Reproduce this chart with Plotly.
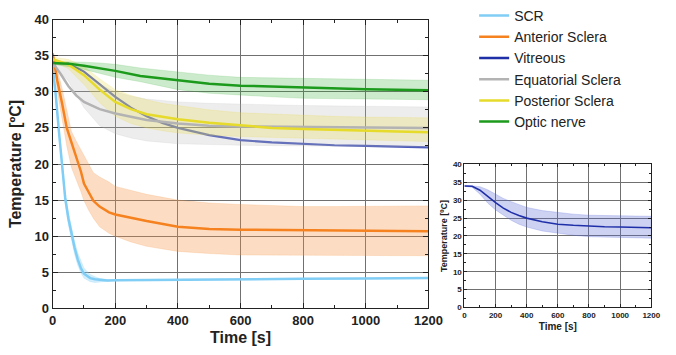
import plotly.graph_objects as go

# ---------------- data ----------------
t_scr = [0, 10, 20, 30, 40, 50, 60, 70, 80, 90, 100, 110, 120, 135, 150, 175, 200, 400, 600, 800, 1000, 1200]
scr = [33.5, 29.5, 24.5, 20.0, 15.3, 12.5, 10.4, 8.4, 6.8, 5.6, 4.8, 4.45, 4.2, 4.05, 3.95, 3.88, 3.9, 4.0, 4.05, 4.1, 4.15, 4.2]
scr_hi = [33.8, 30.0, 25.2, 20.8, 16.1, 13.4, 11.3, 9.3, 7.7, 6.5, 5.6, 5.1, 4.7, 4.4, 4.15, 3.98, 3.95, 4.05, 4.1, 4.15, 4.2, 4.25]
scr_lo = [33.2, 29.0, 23.8, 19.2, 14.5, 11.6, 9.5, 7.5, 6.0, 4.9, 4.2, 3.9, 3.7, 3.6, 3.6, 3.75, 3.85, 3.95, 4.0, 4.05, 4.1, 4.15]

t_ant = [0, 15, 30, 45, 60, 75, 90, 100, 115, 130, 150, 180, 200, 250, 300, 400, 500, 600, 700, 800, 900, 1000, 1100, 1200]
ant = [35.3, 31.5, 28.4, 25.0, 23.0, 21.0, 19.0, 17.3, 16.0, 14.9, 14.1, 13.3, 13.0, 12.5, 12.1, 11.3, 11.0, 10.9, 10.85, 10.8, 10.75, 10.75, 10.7, 10.7]
ant_hi = [35.5, 33.0, 30.5, 27.5, 24.5, 23.2, 22.0, 21.0, 19.8, 18.8, 18.2, 17.5, 16.9, 16.3, 15.8, 15.0, 14.6, 14.4, 14.2, 14.1, 14.1, 14.1, 14.1, 14.2]
ant_lo = [35.1, 30.0, 26.2, 22.5, 19.5, 18.0, 16.2, 14.9, 13.6, 12.5, 11.3, 10.4, 10.0, 9.2, 8.6, 7.9, 7.6, 7.4, 7.35, 7.3, 7.3, 7.3, 7.3, 7.3]

t_mid = [0, 50, 100, 150, 200, 250, 300, 350, 400, 500, 600, 700, 800, 900, 1000, 1100, 1200]
vit = [34.0, 33.9, 32.8, 31.0, 29.3, 27.8, 26.6, 25.7, 25.0, 24.0, 23.3, 23.0, 22.75, 22.6, 22.5, 22.4, 22.3]
vit_hi = [34.2, 34.1, 33.8, 32.9, 31.7, 30.5, 29.6, 28.7, 28.0, 27.1, 26.5, 26.1, 25.8, 25.7, 25.6, 25.55, 25.5]
vit_lo = [33.9, 33.6, 31.7, 29.2, 27.3, 25.8, 24.4, 23.3, 22.5, 21.4, 20.7, 20.2, 19.8, 19.6, 19.5, 19.45, 19.4]

t_equ = [0, 25, 50, 75, 100, 150, 200, 250, 300, 400, 500, 600, 800, 1000, 1200]
equ = [34.0, 32.5, 30.8, 29.5, 28.6, 27.6, 27.0, 26.5, 26.1, 25.6, 25.3, 25.2, 25.1, 25.05, 25.0]
equ_hi = [34.2, 34.0, 33.8, 33.2, 32.5, 31.0, 30.0, 29.4, 29.0, 28.6, 28.4, 28.3, 28.1, 28.0, 27.9]
equ_lo = [33.8, 32.6, 31.5, 29.6, 27.8, 25.3, 24.2, 23.6, 23.2, 22.8, 22.7, 22.6, 22.5, 22.4, 22.4]

pos = [34.5, 33.8, 32.3, 30.3, 28.6, 27.6, 26.9, 26.5, 26.2, 25.7, 25.3, 25.0, 24.85, 24.7, 24.6, 24.5, 24.4]
pos_hi = [34.8, 34.5, 33.5, 31.8, 30.3, 29.5, 28.9, 28.4, 28.1, 27.5, 27.1, 26.9, 26.7, 26.6, 26.5, 26.45, 26.4]
pos_lo = [34.2, 33.2, 31.0, 28.5, 26.6, 25.6, 25.0, 24.6, 24.3, 24.0, 23.8, 23.65, 23.5, 23.4, 23.3, 23.2, 23.1]

t_opt = [0, 50, 100, 150, 200, 280, 400, 500, 600, 700, 800, 900, 1000, 1100, 1200]
opt = [34.0, 33.9, 33.6, 33.3, 32.9, 32.2, 31.6, 31.1, 30.85, 30.7, 30.6, 30.5, 30.35, 30.3, 30.2]
opt_hi = [34.2, 34.2, 34.1, 34.0, 33.8, 33.3, 32.7, 32.3, 32.0, 31.95, 31.9, 31.85, 31.8, 31.7, 31.6]
opt_lo = [33.8, 33.5, 33.1, 32.6, 32.0, 31.4, 30.3, 29.8, 29.5, 29.3, 29.1, 29.05, 29.0, 28.95, 28.9]

names = ["SCR", "Anterior Sclera", "Vitreous", "Equatorial Sclera", "Posterior Sclera", "Optic nerve"]
colors = ["#80cdf6", "#f5821f", "#1f2fa8", "#b3b3b3", "#e6da2a", "#1c9a1c"]
bands = ["rgba(128,205,246,0.35)", "rgba(245,150,70,0.32)", None,
         "rgba(180,180,180,0.24)", "rgba(235,220,80,0.28)", "rgba(40,170,40,0.24)"]

series = [
    (t_scr, scr, scr_hi, scr_lo),
    (t_ant, ant, ant_hi, ant_lo),
    (t_mid, vit, None, None),
    (t_equ, equ, equ_hi, equ_lo),
    (t_mid, pos, pos_hi, pos_lo),
    (t_opt, opt, opt_hi, opt_lo),
]

fig = go.Figure()

# vitreous line drawn first (underneath the bands)
fig.add_trace(go.Scatter(x=t_mid, y=vit, mode="lines", name="Vitreous",
                         line=dict(color="#4d5cbc", width=2.2),
                         showlegend=False, hoverinfo="skip"))

# bands
for (tt, m, hi, lo), col, bc in zip(series, colors, bands):
    if hi is None:
        continue
    fig.add_trace(go.Scatter(x=tt + tt[::-1], y=hi + lo[::-1], mode="lines",
                             fill="toself", fillcolor=bc,
                             line=dict(color=bc, width=0.6),
                             showlegend=False, hoverinfo="skip"))

# mean lines + legend
for (tt, m, hi, lo), col, nm in zip(series, colors, names):
    if nm == "Vitreous":
        fig.add_trace(go.Scatter(x=[None], y=[None], mode="lines", name=nm,
                                 line=dict(color=col, width=2.5)))
        continue
    fig.add_trace(go.Scatter(x=tt, y=m, mode="lines", name=nm,
                             line=dict(color=col, width=2.5)))

# inset
fig.add_trace(go.Scatter(x=t_mid + t_mid[::-1], y=vit_hi + vit_lo[::-1], mode="lines",
                         fill="toself", fillcolor="rgba(90,105,215,0.3)",
                         line=dict(color="rgba(90,105,215,0.4)", width=0.6),
                         showlegend=False, xaxis="x2", yaxis="y2", hoverinfo="skip"))
fig.add_trace(go.Scatter(x=t_mid, y=vit, mode="lines", showlegend=False,
                         line=dict(color="#1f2fa8", width=1.6),
                         xaxis="x2", yaxis="y2"))

W, H = 676, 355
ax_common = dict(showline=True, linecolor="#222", linewidth=1, mirror="ticks",
                 ticks="inside", tickcolor="#222", showgrid=True, gridcolor="#707070",
                 gridwidth=1, zeroline=False)

fig.update_layout(
    width=W, height=H, margin=dict(l=0, r=0, t=0, b=0),
    paper_bgcolor="white", plot_bgcolor="white",
    font=dict(family="Liberation Sans, Arial, sans-serif", color="#222"),
    xaxis=dict(domain=[50 / W, 436 / W], range=[0, 1200], dtick=200,
               ticklen=5, minor=dict(ticks="inside", dtick=100, ticklen=3, tickcolor="#222", showgrid=False),
               tickfont=dict(size=13, family="Liberation Sans", weight="bold"),
               title=dict(text="<b>Time [s]</b>", font=dict(size=16), standoff=4),
               anchor="y", **ax_common),
    yaxis=dict(domain=[(H - 314) / H, (H - 7) / H], range=[0, 40], dtick=5,
               ticklen=5, minor=dict(ticks="inside", dtick=2.5, ticklen=3, tickcolor="#222", showgrid=False),
               tickfont=dict(size=13, family="Liberation Sans", weight="bold"),
               title=dict(text="<b>Temperature [ºC]</b>", font=dict(size=16), standoff=8),
               anchor="x", **ax_common),
    xaxis2=dict(domain=[473 / W, 665 / W], range=[0, 1200], dtick=200,
                ticklen=3, minor=dict(ticks="inside", dtick=100, ticklen=2, tickcolor="#222", showgrid=False),
                tickfont=dict(size=8, weight="bold"),
                title=dict(text="<b>Time [s]</b>", font=dict(size=10), standoff=3),
                anchor="y2", **ax_common),
    yaxis2=dict(domain=[(H - 313) / H, (H - 161) / H], range=[0, 40], dtick=5,
                ticklen=3, minor=dict(ticks="inside", dtick=2.5, ticklen=2, tickcolor="#222", showgrid=False),
                tickfont=dict(size=8, weight="bold"),
                title=dict(text="<b>Temperature [ºC]</b>", font=dict(size=9), standoff=3),
                anchor="x2", **ax_common),
    legend=dict(x=483 / W, y=1.04, xanchor="left", yanchor="top",
                font=dict(size=14, family="Liberation Sans", color="#222"),
                bgcolor="rgba(0,0,0,0)", tracegroupgap=0, itemwidth=30),
    showlegend=True,
)

fig.write_html("out.html")
